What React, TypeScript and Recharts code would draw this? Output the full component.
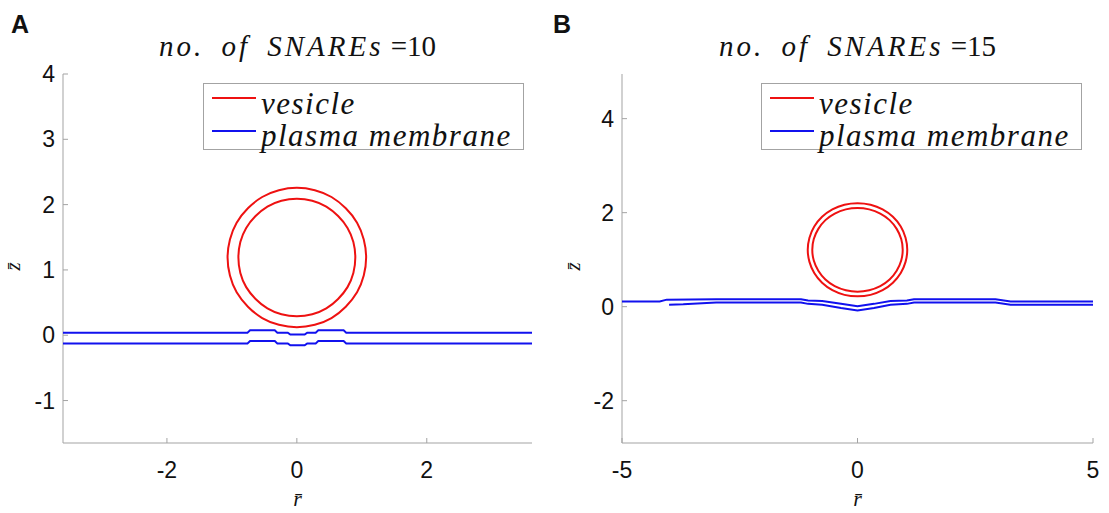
import React from 'react';
import { ScatterChart, Scatter, XAxis, YAxis, Legend } from 'recharts';

// colours (MATLAB style)
const RED = '#ee1111';
const BLUE = '#1111ee';
const AXIS_GREY = '#a3a3a3';

// ---- panel A: no. of SNAREs = 10 ----
// vesicle contours (closed curves, last point joins the first)
const vesicleOuterA = [
  [1.08, 1.19], [1.04, 1.47], [0.94, 1.73], [0.76, 1.95], [0.54, 2.13], [0.28, 2.23], [0, 2.27],
  [-0.28, 2.23], [-0.54, 2.13], [-0.76, 1.95], [-0.94, 1.73], [-1.04, 1.47], [-1.08, 1.19],
  [-1.04, 0.91], [-0.94, 0.65], [-0.76, 0.43], [-0.54, 0.25], [-0.28, 0.15], [0, 0.11],
  [0.28, 0.15], [0.54, 0.25], [0.76, 0.43], [0.94, 0.65], [1.04, 0.91],
];
const vesicleInnerA = [
  [0.91, 1.19], [0.88, 1.43], [0.79, 1.65], [0.64, 1.83], [0.46, 1.98], [0.24, 2.07], [0, 2.1],
  [-0.24, 2.07], [-0.46, 1.98], [-0.64, 1.83], [-0.79, 1.65], [-0.88, 1.43], [-0.91, 1.19],
  [-0.88, 0.95], [-0.79, 0.73], [-0.64, 0.55], [-0.46, 0.4], [-0.24, 0.31], [0, 0.28],
  [0.24, 0.31], [0.46, 0.4], [0.64, 0.55], [0.79, 0.73], [0.88, 0.95],
];
const membraneUpperA = [
  [-3.6, 0.04], [-0.76, 0.04], [-0.72, 0.075], [-0.34, 0.075], [-0.3, 0.04], [-0.14, 0.04],
  [-0.1, 0.01], [0.12, 0.01], [0.16, 0.04], [0.29, 0.04], [0.33, 0.075], [0.72, 0.075],
  [0.76, 0.04], [3.62, 0.04],
];
const membraneLowerA = [
  [-3.6, -0.125], [-0.76, -0.125], [-0.72, -0.09], [-0.34, -0.09], [-0.3, -0.125], [-0.14, -0.125],
  [-0.1, -0.155], [0.12, -0.155], [0.16, -0.125], [0.29, -0.125], [0.33, -0.09], [0.72, -0.09],
  [0.76, -0.125], [3.62, -0.125],
];
const rDomainA = [-3.6, 3.62];
const zDomainA = [-1.65, 4];
const rTicksA = [-2, 0, 2];
const zTicksA = [-1, 0, 1, 2, 3, 4];

// ---- panel B: no. of SNAREs = 15 ----
const vesicleOuterB = [
  [1.07, 1.21], [1.03, 1.47], [0.93, 1.71], [0.76, 1.92], [0.54, 2.08], [0.28, 2.18], [0, 2.21],
  [-0.28, 2.18], [-0.54, 2.08], [-0.76, 1.92], [-0.93, 1.71], [-1.03, 1.47], [-1.07, 1.21],
  [-1.03, 0.95], [-0.93, 0.71], [-0.76, 0.5], [-0.54, 0.34], [-0.28, 0.24], [0, 0.21],
  [0.28, 0.24], [0.54, 0.34], [0.76, 0.5], [0.93, 0.71], [1.03, 0.95],
];
const vesicleInnerB = [
  [0.97, 1.21], [0.94, 1.44], [0.84, 1.66], [0.69, 1.85], [0.49, 1.99], [0.25, 2.08], [0, 2.11],
  [-0.25, 2.08], [-0.49, 1.99], [-0.69, 1.85], [-0.84, 1.66], [-0.94, 1.44], [-0.97, 1.21],
  [-0.94, 0.98], [-0.84, 0.76], [-0.69, 0.57], [-0.49, 0.43], [-0.25, 0.34], [0, 0.31],
  [0.25, 0.34], [0.49, 0.43], [0.69, 0.57], [0.84, 0.76], [0.94, 0.98],
];
const membraneUpperB = [
  [-5, 0.11], [-4.2, 0.11], [-4.05, 0.15], [-3.0, 0.16], [-1.2, 0.16], [-1.05, 0.13], [-0.75, 0.12],
  [-0.35, 0.06], [0, 0.01], [0.35, 0.06], [0.7, 0.12], [1.05, 0.13], [1.2, 0.16], [2.93, 0.16],
  [3.25, 0.11], [5, 0.11],
];
const membraneLowerB = [
  [-4.0, 0.04], [-3.7, 0.05], [-3.0, 0.09], [-1.2, 0.09], [-1.05, 0.06], [-0.75, 0.04],
  [-0.35, -0.03], [0, -0.08], [0.35, -0.03], [0.7, 0.04], [1.05, 0.06], [1.2, 0.09], [2.93, 0.09],
  [3.25, 0.04], [5, 0.04],
];
const rDomainB = [-5, 5];
const zDomainB = [-2.9, 4.95];
const rTicksB = [-5, 0, 5];
const zTicksB = [-2, 0, 2, 4];

const legendItems = [
  { label: 'vesicle', color: RED },
  { label: 'plasma membrane', color: BLUE },
];

const toPoints = (pairs: number[][]) => pairs.map(([r, z]) => ({ r, z }));

const noDot = () => <g />;

const tickFont = { fill: '#111', fontSize: 23, fontFamily: '"Liberation Sans", Arial, sans-serif' };
const mathFont = '"Liberation Serif", "Times New Roman", serif';

const LegendBox = () => (
  <div
    style={{
      position: 'relative',
      width: 321,
      height: 67,
      border: `1px solid ${AXIS_GREY}`,
      background: '#fff',
      boxSizing: 'border-box',
    }}
  >
    {legendItems.map((item, i) => (
      <div key={item.label}>
        <div
          style={{
            position: 'absolute',
            left: 8,
            top: 13 + i * 33,
            width: 44,
            height: 0,
            borderTop: `2px solid ${item.color}`,
          }}
        />
        <div
          style={{
            position: 'absolute',
            left: 57,
            top: 4 + i * 32,
            fontFamily: mathFont,
            fontStyle: 'italic',
            fontSize: 31,
            lineHeight: '31px',
            letterSpacing: 1.5,
            color: '#111',
            whiteSpace: 'nowrap',
          }}
        >
          {item.label}
        </div>
      </div>
    ))}
  </div>
);

interface Curve {
  name: string;
  pts: number[][];
  color: string;
  closed?: boolean;
}

interface PanelProps {
  letter: string;
  snares: number;
  left: number;
  width: number;
  marginLeft: number;
  marginRight: number;
  letterLeft: number;
  legendLeft: number;
  rDomain: number[];
  zDomain: number[];
  rTicks: number[];
  zTicks: number[];
  curves: Curve[];
}

const Panel: React.FC<PanelProps> = ({
  letter, snares, left, width, marginLeft, marginRight, letterLeft, legendLeft,
  rDomain, zDomain, rTicks, zTicks, curves,
}) => {
  const plotCenter = marginLeft + 55 + (width - marginLeft - 55 - marginRight) / 2;
  return (
    <div style={{ position: 'absolute', left, top: 0, width, height: 513 }}>
      <div
        style={{
          position: 'absolute', left: letterLeft, top: 12, fontFamily: '"Liberation Sans", Arial, sans-serif',
          fontWeight: 'bold', fontSize: 25, lineHeight: '25px', color: '#111',
        }}
      >
        {letter}
      </div>
      <div
        style={{
          position: 'absolute', left: plotCenter - 200, width: 400, top: 32, textAlign: 'center',
          fontFamily: mathFont, fontSize: 29, lineHeight: '29px', color: '#111', whiteSpace: 'nowrap',
        }}
      >
        <span style={{ fontStyle: 'italic', letterSpacing: 3, wordSpacing: 7 }}>no. of SNAREs</span> =
        {snares}
      </div>
      <ScatterChart width={width} height={513} margin={{ top: 74, right: marginRight, bottom: 30, left: marginLeft }}>
        <XAxis
          type="number"
          dataKey="r"
          domain={rDomain}
          ticks={rTicks}
          height={40}
          stroke={AXIS_GREY}
          tickSize={-5}
          tickMargin={24}
          tick={tickFont}
          label={({ viewBox }: any) => (
            <text
              x={viewBox.x + viewBox.width / 2}
              y={506}
              textAnchor="middle"
              fontFamily={mathFont}
              fontStyle="italic"
              fontSize={22}
              fill="#111"
            >
              r̄
            </text>
          )}
        />
        <XAxis
          xAxisId="top"
          orientation="top"
          type="number"
          domain={rDomain}
          ticks={rTicks}
          height={0}
          stroke={AXIS_GREY}
          tickSize={-5}
          tick={false}
        />
        <YAxis
          type="number"
          dataKey="z"
          domain={zDomain}
          ticks={zTicks}
          width={55}
          stroke={AXIS_GREY}
          tickSize={-5}
          tickMargin={13}
          tick={tickFont}
          label={({ viewBox }: any) => {
            const cy = viewBox.y + viewBox.height / 2 + 8;
            return (
              <text
                x={20}
                y={cy}
                transform={`rotate(-90 20 ${cy})`}
                textAnchor="middle"
                fontFamily={mathFont}
                fontStyle="italic"
                fontSize={21}
                fill="#111"
              >
                z̄
              </text>
            );
          }}
        />
        <YAxis
          yAxisId="right"
          orientation="right"
          type="number"
          domain={zDomain}
          ticks={zTicks}
          width={0}
          stroke={AXIS_GREY}
          tickSize={-5}
          tick={false}
        />
        {curves.map((c) => (
          <Scatter
            key={c.name}
            name={c.name}
            data={toPoints(c.pts)}
            fill={c.color}
            line={{ stroke: c.color, strokeWidth: 2 }}
            lineJointType={c.closed ? 'basisClosed' : 'linear'}
            shape={noDot}
            legendType="none"
            isAnimationActive={false}
          />
        ))}
        <Legend
          layout="vertical"
          align="center"
          verticalAlign="middle"
          content={() => <LegendBox />}
          wrapperStyle={{ left: legendLeft, top: 83, width: 321, height: 67 }}
        />
      </ScatterChart>
    </div>
  );
};

export default function App() {
  return (
    <div style={{ position: 'absolute', left: 0, top: 0, width: 1109, height: 513, background: '#fff' }}>
      <Panel
        letter="A"
        snares={10}
        left={0}
        width={560}
        marginLeft={8}
        marginRight={28}
        letterLeft={11}
        legendLeft={203}
        rDomain={rDomainA}
        zDomain={zDomainA}
        rTicks={rTicksA}
        zTicks={zTicksA}
        curves={[
          { name: 'vesicle outer', pts: vesicleOuterA, color: RED, closed: true },
          { name: 'vesicle inner', pts: vesicleInnerA, color: RED, closed: true },
          { name: 'membrane upper', pts: membraneUpperA, color: BLUE },
          { name: 'membrane lower', pts: membraneLowerA, color: BLUE },
        ]}
      />
      <Panel
        letter="B"
        snares={15}
        left={560}
        width={549}
        marginLeft={7}
        marginRight={16}
        letterLeft={-7}
        legendLeft={201}
        rDomain={rDomainB}
        zDomain={zDomainB}
        rTicks={rTicksB}
        zTicks={zTicksB}
        curves={[
          { name: 'vesicle outer', pts: vesicleOuterB, color: RED, closed: true },
          { name: 'vesicle inner', pts: vesicleInnerB, color: RED, closed: true },
          { name: 'membrane upper', pts: membraneUpperB, color: BLUE },
          { name: 'membrane lower', pts: membraneLowerB, color: BLUE },
        ]}
      />
    </div>
  );
}
